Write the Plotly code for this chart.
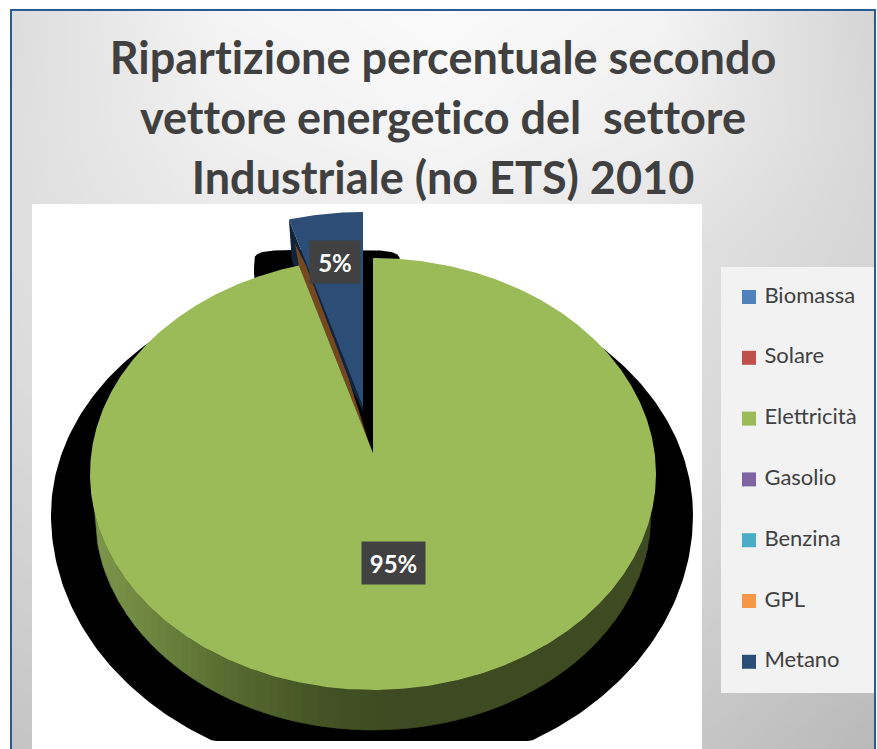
import numpy as np
import plotly.graph_objects as go

# ---- data ----
categories = ["Biomassa", "Solare", "Elettricità", "Gasolio", "Benzina", "GPL", "Metano"]
values = [0.0, 0.0, 95.4, 0.0, 0.0, 0.0, 4.6]
colors = ["#4f81bd", "#c0504d", "#9bbb59", "#8064a2", "#4bacc6", "#f79646", "#2c4d75"]
title_lines = ["Ripartizione percentuale secondo",
               "vettore energetico del  settore",
               "Industriale (no ETS) 2010"]

W, H = 877, 749
FONT = "Lato, Carlito, Calibri, sans-serif"
TEXT = "#404040"

# ---- 3D pie geometry (pixel space axes) ----
CX, CY, RX, RY = 373.0, 474.0, 283.0, 216.0
APEX_DY = -21.0
E = 0.088
K = np.sqrt((1 - E) / (1 + E))
WALL_CY, WALL_RX = 514.0, 278.0
METANO_DX, METANO_DY = -10.0, -46.0


def persp(a_deg):
    a = np.radians(np.asarray(a_deg, dtype=float)) / 2
    return 2 * np.arctan2(K * np.sin(a), np.cos(a))


def rim(a_deg, dx=0.0, dy=0.0):
    t = persp(a_deg)
    return CX + dx + RX * np.sin(t), CY + dy - RY * np.cos(t)


def sector(a0, a1, dx=0.0, dy=0.0):
    n = max(4, int(abs(a1 - a0) * 2))
    xs, ys = rim(np.linspace(a0, a1, n), dx, dy)
    ax, ay = CX + dx, CY + dy + APEX_DY
    return np.r_[ax, xs, ax], np.r_[ay, ys, ay]


fig = go.Figure()


def poly(x, y, color, name="", line=0):
    fig.add_trace(go.Scatter(x=list(x), y=list(y), mode="lines", fill="toself",
                             fillcolor=color, name=name, showlegend=False, hoverinfo="skip",
                             line=dict(color=color, width=line)))


# ---- background gradient (grey levels at control points, columns x=10..875, rows y=10..850) ----
bg_x_edges = [-98, 118, 334, 550, 766, 982]
bg_y_edges = [-50, 70, 190, 310, 430, 550, 670, 790, 910]
bg_levels = [[220, 245, 250, 244, 212],
             [222, 240, 246, 238, 215],
             [222, 232, 236, 226, 213],
             [219, 228, 230, 222, 208],
             [213, 222, 224, 218, 204],
             [206, 215, 216, 210, 196],
             [197, 205, 205, 201, 186],
             [190, 198, 198, 194, 180]]
fig.add_trace(go.Heatmap(x=bg_x_edges, y=bg_y_edges, z=bg_levels, zsmooth="best",
                         colorscale=[[0, "#000000"], [1, "#ffffff"]], zmin=0, zmax=255,
                         showscale=False, hoverinfo="skip"))
# page white outside the frame
poly([0, 10, 10, 0], [0, 0, H, H], "#ffffff")
poly([0, W, W, 0], [0, 0, 9, 9], "#ffffff")
poly([876, W, W, 876], [0, 0, H, H], "#ffffff")

# frame
fig.add_trace(go.Scatter(x=[11, 11, 875, 875], y=[H, 10, 10, H], mode="lines", showlegend=False,
                         hoverinfo="skip", line=dict(color="#2a5a94", width=2)))

# white plot area, legend panel
poly([32, 702, 702, 32], [204, 204, H + 5, H + 5], "#ffffff")
poly([721, 874, 874, 721], [267, 267, 693, 693], "#f2f2f2")

# ---- shadow ----
th = np.linspace(0, 2 * np.pi, 361)
sx = 372 + 321 * np.cos(th)
sy = 515 + np.where(np.sin(th) > 0, 260, 240) * np.sin(th)
poly(sx, np.minimum(sy, 741), "#000000")
# shadow of the exploded wedge
u = np.linspace(0, 2 * np.pi, 181)
wx = 327 + 73 * np.sign(np.cos(u)) * np.abs(np.cos(u)) ** 0.35
wy = 268 + 18 * np.sign(np.sin(u)) * np.abs(np.sin(u)) ** 0.35
poly(wx, wy, "#000000")
# gap of the exploded wedge
poly([362, 374, 374, 362], [258, 258, 450, 400], "#000000")

# ---- angles from the values ----
total = sum(values)
green_end = values[2] / total * 360

# wall of the green slice
stops_x = [95, 170, 240, 320, 400, 651]
stops_rgb = np.array([[125, 150, 75], [105, 128, 60], [85, 104, 48],
                      [68, 84, 38], [62, 74, 33], [62, 74, 33]], dtype=float)
edges = np.arange(CX - WALL_RX, CX + WALL_RX + 8, 8.0)
for x0, x1 in zip(edges[:-1], edges[1:]):
    x1 = min(x1, CX + WALL_RX)
    xs = np.linspace(x0, x1, 4)
    bot = WALL_CY + RY * np.sqrt(np.clip(1 - ((xs - CX) / WALL_RX) ** 2, 0, 1))
    top = CY + RY * np.sqrt(np.clip(1 - ((xs - CX) / RX) ** 2, 0, 1))
    c = [np.interp((x0 + x1) / 2, stops_x, stops_rgb[:, i]) for i in range(3)]
    col = "rgb(%d,%d,%d)" % tuple(c)
    poly(np.r_[xs, xs[::-1]], np.r_[top, bot[::-1]], col, line=0.6)

# metano wall, cut face, green top, metano top
mx, my = rim(green_end, METANO_DX, METANO_DY)
m_apex = (CX + METANO_DX, CY + METANO_DY + APEX_DY)
poly([mx, mx + 3, m_apex[0], m_apex[0]], [my, my + 42, m_apex[1] + 5, m_apex[1]], "#12243c")
gx, gy = rim(green_end)
g_apex = (CX, CY + APEX_DY)
px = gx + 0.6 * (g_apex[0] - gx) + 5
py = gy + 0.6 * (g_apex[1] - gy)
poly([gx - 4, gx + 7, px, g_apex[0] - 4, g_apex[0], gx],
     [gy - 22, gy, py, g_apex[1] - 10, g_apex[1], gy], "#76481f")

x, y = sector(0, green_end)
poly(x, y, colors[2], name=categories[2])
x, y = sector(green_end, 360, METANO_DX, METANO_DY)
poly(x, y, colors[6], name=categories[6])

# ---- data labels ----
label_frac = {2: 0.47, 6: 0.75}
label_box = {2: (63, 42), 6: (50, 42)}
start = {2: 0.0, 6: green_end}
offs = {2: (0.0, 0.0), 6: (METANO_DX, METANO_DY)}
annotations = []
for i, f in label_frac.items():
    mid = start[i] + values[i] / total * 180
    dx, dy = offs[i]
    rx, ry = rim(mid, dx, dy)
    ax, ay = CX + dx, CY + dy + APEX_DY
    annotations.append(dict(x=ax + (rx - ax) * f, y=ay + (ry - ay) * f, xref="x", yref="y",
                            text="<b>%d%%</b>" % round(values[i]), showarrow=False,
                            font=dict(family=FONT, size=24, color="#ffffff"),
                            bgcolor="#414141", width=label_box[i][0], height=label_box[i][1],
                            align="center", valign="middle", borderpad=0))

# ---- legend column ----
LEG_X, LEG_Y0, LEG_STEP = 749, 297, 60.8
for i, (c, col) in enumerate(zip(categories, colors)):
    fig.add_trace(go.Scatter(x=[LEG_X], y=[LEG_Y0 + i * LEG_STEP], mode="markers+text", name=c,
                             text=[" " + c], textposition="middle right", showlegend=False,
                             hoverinfo="skip",
                             textfont=dict(family=FONT, size=22, color=TEXT),
                             marker=dict(symbol="square", size=14, color=col)))

title_text = "<br>".join('<span style="font-size:45px;font-variant-ligatures:none">%s</span>' % t
                         for t in title_lines)
fig.update_layout(
    width=W, height=H, margin=dict(l=0, r=0, t=0, b=0),
    paper_bgcolor="#ffffff", plot_bgcolor="#ffffff", showlegend=False,
    font=dict(family=FONT, color=TEXT),
    title=dict(text="<b>" + title_text + "</b>", x=443 / W, xanchor="center", y=1 - 74 / H, yanchor="top",
               font=dict(family=FONT, size=46, color=TEXT)),
    xaxis=dict(range=[0, W], visible=False, fixedrange=True, domain=[0, 1]),
    yaxis=dict(range=[H, 0], visible=False, fixedrange=True, domain=[0, 1]),
    annotations=annotations,
)
fig.write_html("out.html", config=dict(displayModeBar=False),
               post_script="document.body.style.margin='0';document.body.style.overflow='hidden';")
